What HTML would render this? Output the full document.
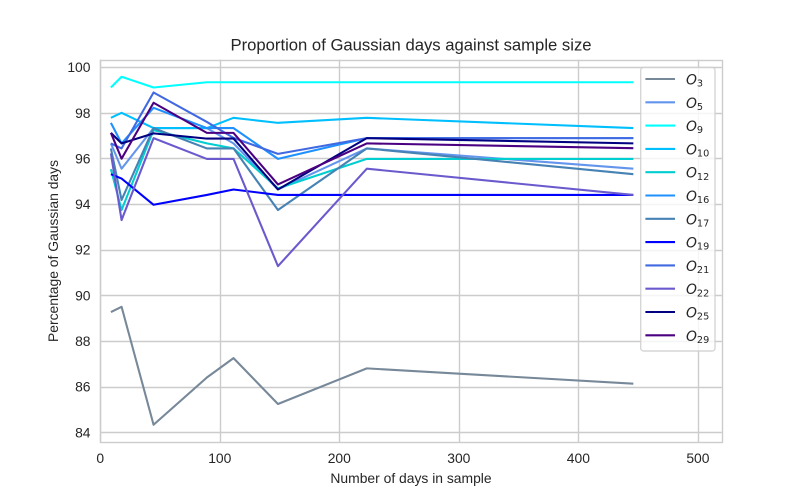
<!DOCTYPE html>
<html>
<head>
<meta charset="utf-8">
<title>Proportion of Gaussian days against sample size</title>
<style>
html,body{margin:0;padding:0;background:#fff;}
svg{display:block;}
text{font-family:"Liberation Sans",Arial,sans-serif;fill:#262626;}
.math{font-family:"DejaVu Sans",sans-serif;font-style:italic;}
.sub{font-family:"DejaVu Sans",sans-serif;font-style:normal;}
</style>
</head>
<body>
<svg id="chart" xmlns="http://www.w3.org/2000/svg" width="802" height="497" viewBox="0 0 802 497">
  <text x="411" y="50.5" font-size="16.67" text-anchor="middle">Proportion of Gaussian days against sample size</text>
  <text x="411" y="483" font-size="13.89" text-anchor="middle">Number of days in sample</text>
  <text transform="translate(58,251) rotate(-90)" font-size="13.89" text-anchor="middle">Percentage of Gaussian days</text>
  <g id="grid"></g>
  <g id="tick-labels"></g>
  <g id="series"></g>
  <g id="spines"></g>
  <g id="legend"></g>
</svg>
<script>
const sampleDays = [8.92, 17.84, 44.6, 89.2, 111.5, 148.67, 223, 446];
const xTicks = [0, 100, 200, 300, 400, 500];
const yTicks = [84, 86, 88, 90, 92, 94, 96, 98, 100];
const seriesNames = ['3', '5', '9', '10', '12', '16', '17', '19', '21', '22', '25', '29'];
const seriesColors = ['#778899', '#6495ED', '#00FFFF', '#00BFFF', '#00CED1', '#1E90FF', '#4682B4', '#0000FF', '#4169E1', '#6A5ACD', '#000080', '#4B0082'];
const o3 = [89.27, 89.5, 84.33, 86.4, 87.25, 85.24, 86.8, 86.13];
const o5 = [96.66, 95.55, 97.33, 97.33, 96.66, 94.64, 96.44, 95.55];
const o9 = [99.11, 99.58, 99.11, 99.34, 99.34, 99.34, 99.34, 99.34];
const o10 = [97.78, 98.0, 97.33, 97.33, 97.78, 97.56, 97.78, 97.33];
const o12 = [95.53, 93.74, 97.24, 96.66, 96.44, 94.69, 95.98, 95.98];
const o16 = [97.56, 96.66, 98.22, 97.33, 97.33, 95.98, 96.89, 96.89];
const o17 = [96.44, 94.18, 97.33, 96.44, 96.44, 93.74, 96.44, 95.31];
const o19 = [95.31, 95.12, 93.97, 94.4, 94.64, 94.4, 94.4, 94.4];
const o21 = [96.66, 96.44, 98.89, 97.6, 96.9, 96.2, 96.89, 96.89];
const o22 = [96.22, 93.3, 96.89, 95.98, 95.98, 91.28, 95.55, 94.4];
const o25 = [97.12, 96.66, 97.1, 96.87, 96.87, 94.64, 96.89, 96.66];
const o29 = [97.12, 95.99, 98.44, 97.12, 97.12, 94.86, 96.66, 96.45];
const seriesValues = [o3, o5, o9, o10, o12, o16, o17, o19, o21, o22, o25, o29];

const NS = 'http://www.w3.org/2000/svg';
const plotLeft = 100.25, plotRight = 721.8, plotTop = 59.64, plotBottom = 442.33;
const xMin = 0, xMax = 520, yMin = 83.56, yMax = 100.33;
function xScale(v) { return plotLeft + (v - xMin) / (xMax - xMin) * (plotRight - plotLeft); }
function yScale(v) { return plotBottom - (v - yMin) / (yMax - yMin) * (plotBottom - plotTop); }
function snap(p) { return Math.floor(p + 0.5) + 0.5; }
function make(tag, attrs) {
  const el = document.createElementNS(NS, tag);
  for (const k in attrs) el.setAttribute(k, attrs[k]);
  return el;
}
const gridG = document.getElementById('grid');
const tickG = document.getElementById('tick-labels');
const seriesG = document.getElementById('series');
const spinesG = document.getElementById('spines');
const legendG = document.getElementById('legend');

xTicks.forEach(function (t) {
  const line = make('line', {x1: snap(xScale(t)), x2: snap(xScale(t)), y1: plotTop, y2: plotBottom, stroke: '#cccccc', 'stroke-width': 1.39});
  
  
  gridG.appendChild(line);
  const label = make('text', {x: xScale(t), y: 463, 'font-size': 13.89, 'text-anchor': 'middle'});
  
  
  label.textContent = String(t);
  tickG.appendChild(label);
});
yTicks.forEach(function (t) {
  const line = make('line', {x1: plotLeft, x2: plotRight, y1: snap(yScale(t)), y2: snap(yScale(t)), stroke: '#cccccc', 'stroke-width': 1.39});
  
  
  gridG.appendChild(line);
  const label = make('text', {x: 90.5, y: yScale(t) + 5, 'font-size': 13.89, 'text-anchor': 'end'});
  
  
  label.textContent = String(t);
  tickG.appendChild(label);
});
seriesValues.forEach(function (vals, i) {
  const pts = vals.map(function (v, j) { return xScale(sampleDays[j]).toFixed(2) + ',' + yScale(v).toFixed(2); }).join(' ');
  const line = make('polyline', {points: pts, fill: 'none', stroke: seriesColors[i], 'stroke-width': 2.08, 'stroke-linejoin': 'round', 'stroke-linecap': 'butt'});
  
  
  seriesG.appendChild(line);
});
const frameLeft = snap(plotLeft), frameRight = snap(plotRight), frameTop = snap(plotTop), frameBottom = snap(plotBottom);
const frame = make('rect', {x: frameLeft, y: frameTop, width: frameRight - frameLeft, height: frameBottom - frameTop, fill: 'none', stroke: '#cccccc', 'stroke-width': 1.39});


spinesG.appendChild(frame);

const legendBox = make('rect', {x: 640.7, y: 67.5, width: 74.3, height: 283.5, rx: 2.8, ry: 2.8, fill: 'rgba(255,255,255,0.8)', stroke: 'rgba(204,204,204,0.8)', 'stroke-width': 1.39});


legendG.appendChild(legendBox);
seriesNames.forEach(function (name, i) {
  const rowY = 79 + i * 23.3;
  const handle = make('line', {x1: 645.4, x2: 675, y1: rowY, y2: rowY, stroke: seriesColors[i], 'stroke-width': 2.08});
  
  
  legendG.appendChild(handle);
  const label = make('text', {x: 686, y: rowY + 5.5, 'font-size': 13.89, 'class': 'math'});
  
  
  label.textContent = 'O';
  const sub = make('tspan', {dy: 2.1, 'font-size': 9.7, 'class': 'sub'});
  sub.textContent = name;
  label.appendChild(sub);
  legendG.appendChild(label);
});
</script>
</body>
</html>
